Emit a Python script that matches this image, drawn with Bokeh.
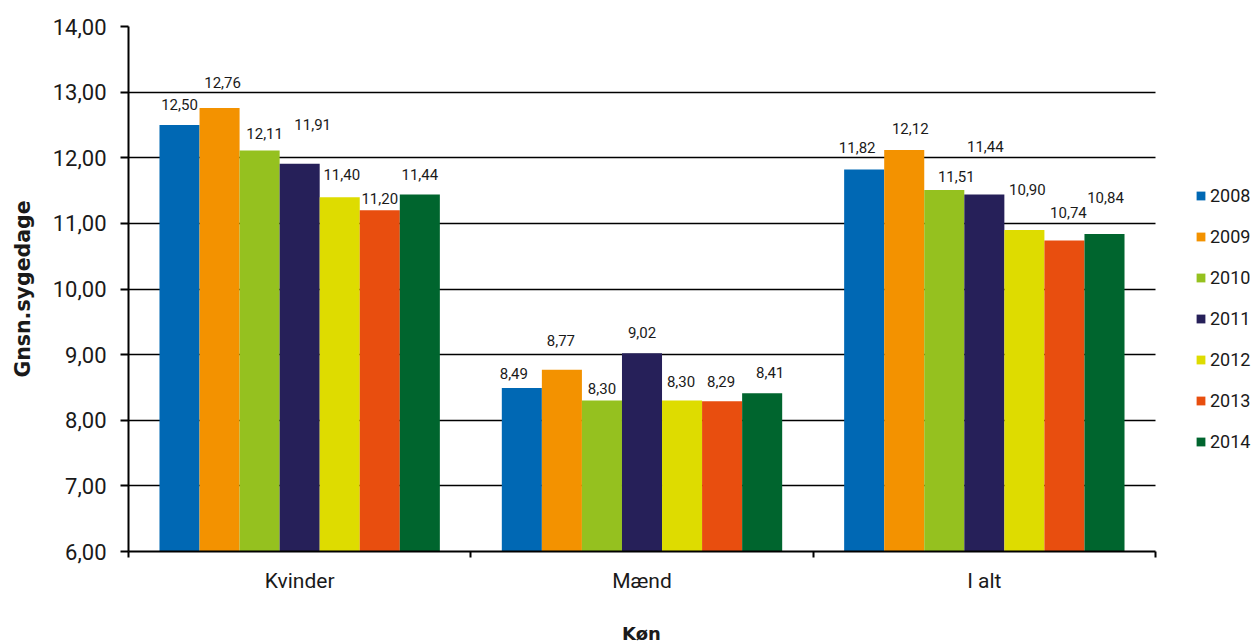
from bokeh.plotting import figure
from bokeh.models import FixedTicker, ColumnDataSource, Legend, LegendItem, Range1d, Title
from bokeh.core.properties import value
from bokeh.embed import file_html
from bokeh.resources import INLINE

# ---- data ----
categories = ["Kvinder", "Mænd", "I alt"]
years = ["2008", "2009", "2010", "2011", "2012", "2013", "2014"]
v2008 = [12.50, 8.49, 11.82]
v2009 = [12.76, 8.77, 12.12]
v2010 = [12.11, 8.30, 11.51]
v2011 = [11.91, 9.02, 11.44]
v2012 = [11.40, 8.30, 10.90]
v2013 = [11.20, 8.29, 10.74]
v2014 = [11.44, 8.41, 10.84]
y_ticks = [6, 7, 8, 9, 10, 11, 12, 13, 14]
series = [v2008, v2009, v2010, v2011, v2012, v2013, v2014]
x_title = "Køn"
y_title = "Gnsn.sygedage"

# ---- style ----
colors = ["#0068B4", "#F39200", "#95C11F", "#262059", "#DEDC00", "#E84E0F", "#00652E"]
bar_w = 0.117
# label placement nudges in screen pixels [category][year]
lab_dy = [[20, 25, 17, 39, 23, 12, 20],
          [15, 29, 12, 21, 19, 20, 21],
          [22, 21, 13, 48, 40, 28, 36]]
lab_dx = [[0, 3, 5, 13, 2, 0, 0],
          [-8, -1, 0, 0, -1, -1, 8],
          [-7, 6, 12, 1, 3, 4, 1]]
FONT = "Roboto"
TXT = "#1a1a1a"
n = len(categories)
plot_px, frame_px = 1027, 1127
x_end = n * frame_px / plot_px   # extra room on the right for the legend

p = figure(width=1255, height=643, output_backend="svg", toolbar_location=None,
           x_range=Range1d(0, x_end), y_range=Range1d(y_ticks[0], y_ticks[-1]),
           min_border_left=128, min_border_right=0, min_border_top=26, min_border_bottom=92)
p.outline_line_color = None
p.background_fill_color = "white"
p.border_fill_color = "white"

renderers = []
lx, ly, lt, ldx, ldy = [], [], [], [], []
for j, (yr, vals, col) in enumerate(zip(years, series, colors)):
    xs = [i + 0.5 + (j - 3) * bar_w for i in range(n)]
    src = ColumnDataSource(dict(x=xs, top=vals))
    r = p.vbar(x="x", top="top", bottom=y_ticks[0], width=bar_w, source=src,
               fill_color=col, line_color=None)
    renderers.append((yr, r))
    for i, v in enumerate(vals):
        lx.append(xs[i]); ly.append(v)
        lt.append(f"{v:.2f}".replace(".", ","))
        ldx.append(lab_dx[i][j]); ldy.append(-lab_dy[i][j])

lsrc = ColumnDataSource(dict(x=lx, y=ly, t=lt, dx=ldx, dy=ldy))
p.text(x="x", y="y", text="t", x_offset="dx", y_offset="dy", source=lsrc,
       text_font=value(FONT), text_font_size="15px", text_color=TXT,
       text_align="center", text_baseline="middle")

# y axis
p.yaxis.ticker = FixedTicker(ticks=y_ticks)
p.yaxis.major_label_overrides = {t: f"{t:.2f}".replace(".", ",") for t in y_ticks}
p.yaxis.minor_tick_line_color = None
p.yaxis.major_tick_out = 8
p.yaxis.major_tick_in = 0
p.yaxis.major_tick_line_width = 2
p.yaxis.axis_line_width = 2
p.yaxis.axis_line_color = "black"
p.yaxis.major_label_standoff = 14
p.yaxis.major_label_text_font = FONT
p.yaxis.major_label_text_font_size = "22px"
p.yaxis.major_label_text_color = TXT
p.yaxis.axis_label = y_title
p.yaxis.axis_label_text_font = "DejaVu Sans"
p.yaxis.axis_label_text_font_style = "bold"
p.yaxis.axis_label_text_font_size = "20.5px"
p.yaxis.axis_label_text_color = TXT
p.yaxis.axis_label_standoff = 15

# x axis: labels at category centres, ticks at boundaries
p.xaxis.bounds = (0, n)
p.xaxis.ticker = FixedTicker(ticks=[i + 0.5 for i in range(n)],
                             minor_ticks=list(range(n + 1)))
p.xaxis.major_label_overrides = {i + 0.5: c for i, c in enumerate(categories)}
p.xaxis.major_tick_line_color = None
p.xaxis.major_tick_out = 0
p.xaxis.major_tick_in = 0
p.xaxis.minor_tick_out = 6
p.xaxis.minor_tick_in = 0
p.xaxis.minor_tick_line_width = 2
p.xaxis.minor_tick_line_color = "black"
p.xaxis.axis_line_width = 2
p.xaxis.axis_line_color = "black"
p.xaxis.major_label_standoff = 11
p.xaxis.major_label_text_font = FONT
p.xaxis.major_label_text_font_size = "21px"
p.xaxis.major_label_text_color = TXT
# empty spacer label to push the title further down
p.xaxis.axis_label = "\u00a0"
p.xaxis.axis_label_text_font_size = "1px"
p.xaxis.axis_label_standoff = 21

# x-axis title, centred under the category area (not the legend area)
p.add_layout(Title(text=x_title, align="left", offset=plot_px / 2 - 20,
                   text_font="DejaVu Sans", text_font_style="bold",
                   text_font_size="18px", text_color=TXT, standoff=0), "below")

p.xgrid.grid_line_color = None
p.ygrid.ticker = FixedTicker(ticks=y_ticks)
p.ygrid.cross_bounds = (0, n)
p.ygrid.grid_line_color = "black"
p.ygrid.grid_line_width = 1.6

legend = Legend(items=[LegendItem(label=yr, renderers=[r]) for yr, r in renderers],
                location=(1067, 99), orientation="vertical",
                glyph_width=11, glyph_height=11, label_height=19, spacing=20,
                label_standoff=4, padding=0, margin=0, border_line_color=None,
                background_fill_alpha=0,
                label_text_font=FONT, label_text_font_size="18px", label_text_color=TXT)
p.add_layout(legend, "center")

open("out.html", "w").write(file_html(p, INLINE))
